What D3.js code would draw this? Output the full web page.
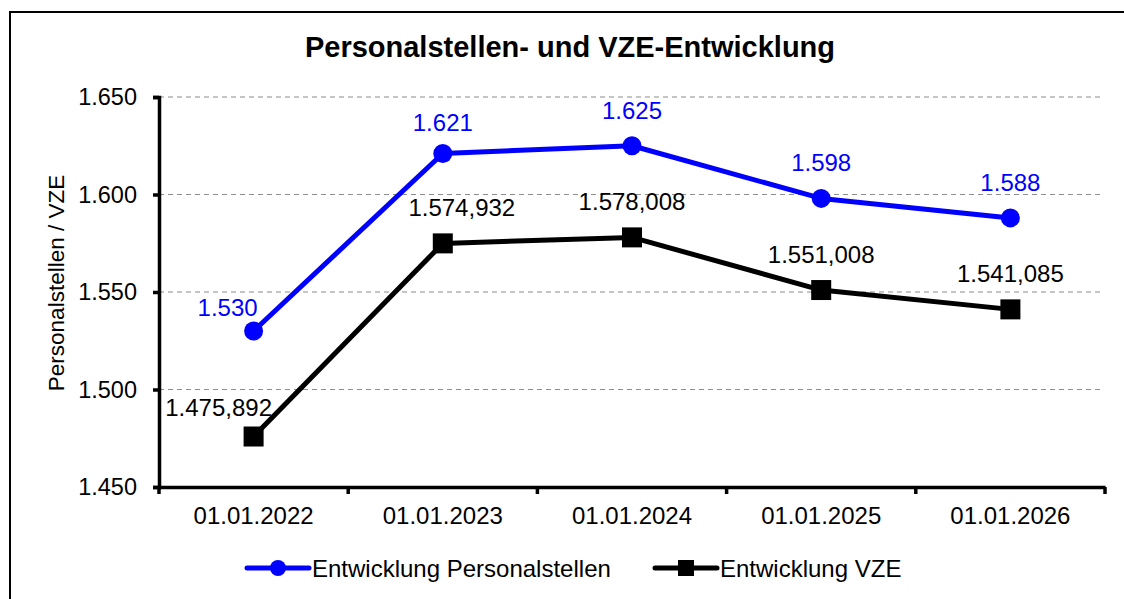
<!DOCTYPE html>
<html>
<head>
<meta charset="utf-8">
<script src="https://cdn.jsdelivr.net/npm/d3@7"></script>
<style>
  body { margin: 0; background: #fff; }
  text { font-family: "Liberation Sans", Arial, sans-serif; }
</style>
</head>
<body>
<div id="chart"></div>
<script>
var width = 1124,
    height = 599;

// data
var dates = ["01.01.2022", "01.01.2023", "01.01.2024", "01.01.2025", "01.01.2026"];
var personalstellen = [1530, 1621, 1625, 1598, 1588];
var vze = [1475.892, 1574.932, 1578.008, 1551.008, 1541.085];
var yTicks = [1450, 1500, 1550, 1600, 1650];
var seriesNames = ["Entwicklung Personalstellen", "Entwicklung VZE"];

// some labels were moved by hand in the original
var nudgeBlue = [[-26, 12], [0, 4], [0, 0], [0, 0], [0, 0]];
var nudgeBlack = [[-35, 6], [19, 0], [0, 0], [0, 0], [0, 0]];

var de = d3.formatLocale({ decimal: ",", thousands: ".", grouping: [3] });
var fmtInt = de.format(",.0f");
var fmtDec = de.format(",.3f");

var svg = d3.select("#chart").append("svg")
    .attr("width", width)
    .attr("height", height);

// outer frame (runs off the right / bottom edge like the screenshot)
svg.append("rect")
    .attr("x", 10).attr("y", 12)
    .attr("width", 1200).attr("height", 700)
    .attr("fill", "none")
    .attr("stroke", "#000")
    .attr("stroke-width", 2);

var plot = { left: 159, right: 1105, top: 97, bottom: 487 };

var x = d3.scaleBand()
    .domain(dates)
    .range([plot.left, plot.right]);

var y = d3.scaleLinear()
    .domain([1450, 1650])
    .range([plot.bottom, plot.top]);

// title
svg.append("text")
    .attr("x", 570).attr("y", 57)
    .attr("text-anchor", "middle")
    .style("font-size", "29px")
    .style("font-weight", "bold")
    .text("Personalstellen- und VZE-Entwicklung");

// grid
svg.append("g").selectAll("line")
    .data(yTicks.slice(1))
    .enter().append("line")
    .attr("x1", plot.left).attr("x2", plot.right - 1)
    .attr("y1", d => y(d)).attr("y2", d => y(d))
    .attr("stroke", "#8c8c8c")
    .attr("stroke-width", 1.2)
    .attr("stroke-dasharray", "5,4");

// y axis
var yAxis = svg.append("g")
    .attr("transform", "translate(" + plot.left + ",0)")
    .call(d3.axisLeft(y).tickValues(yTicks).tickFormat(fmtInt).tickSize(6).tickPadding(16));
yAxis.select(".domain").attr("stroke-width", 3.5);
yAxis.selectAll(".tick line").attr("stroke-width", 3.5);
yAxis.selectAll("text").style("font-size", "23.5px").attr("fill", "#000").attr("font-family", null);

// x axis
var xAxis = svg.append("g")
    .attr("transform", "translate(0," + plot.bottom + ")")
    .call(d3.axisBottom(x).tickSize(0).tickPadding(20));
xAxis.select(".domain").attr("stroke-width", 3.5);
xAxis.selectAll("text").style("font-size", "24px").attr("fill", "#000").attr("font-family", null);

// ticks between categories
svg.append("g").selectAll("line")
    .data(d3.range(dates.length + 1))
    .enter().append("line")
    .attr("x1", i => plot.left + i * x.step())
    .attr("x2", i => plot.left + i * x.step())
    .attr("y1", plot.bottom).attr("y2", plot.bottom + 7)
    .attr("stroke", "#000")
    .attr("stroke-width", 3.5);

// y axis title
svg.append("text")
    .attr("transform", "translate(64,283) rotate(-90)")
    .attr("text-anchor", "middle")
    .style("font-size", "22.5px")
    .text("Personalstellen / VZE");

var cx = d => x(d) + x.bandwidth() / 2;

var line = d3.line()
    .x(d => cx(d[0]))
    .y(d => y(d[1]));

var blueData = d3.zip(dates, personalstellen);
var blackData = d3.zip(dates, vze);

svg.append("path")
    .datum(blueData)
    .attr("d", line)
    .attr("fill", "none")
    .attr("stroke", "#0000ff")
    .attr("stroke-width", 5)
    .attr("stroke-linejoin", "round");

svg.append("path")
    .datum(blackData)
    .attr("d", line)
    .attr("fill", "none")
    .attr("stroke", "#000")
    .attr("stroke-width", 5)
    .attr("stroke-linejoin", "round");

svg.append("g").selectAll("circle")
    .data(blueData)
    .enter().append("circle")
    .attr("cx", d => cx(d[0]))
    .attr("cy", d => y(d[1]))
    .attr("r", 9.5)
    .attr("fill", "#0000ff");

svg.append("g").selectAll("rect")
    .data(blackData)
    .enter().append("rect")
    .attr("x", d => cx(d[0]) - 10)
    .attr("y", d => y(d[1]) - 10)
    .attr("width", 20).attr("height", 20)
    .attr("fill", "#000");

// data labels
svg.append("g").selectAll("text")
    .data(blueData)
    .enter().append("text")
    .attr("x", (d, i) => cx(d[0]) + nudgeBlue[i][0])
    .attr("y", (d, i) => y(d[1]) - 27 + nudgeBlue[i][1])
    .attr("text-anchor", "middle")
    .attr("fill", "#0000ff")
    .style("font-size", "24px")
    .text(d => fmtInt(d[1]));

svg.append("g").selectAll("text")
    .data(blackData)
    .enter().append("text")
    .attr("x", (d, i) => cx(d[0]) + nudgeBlack[i][0])
    .attr("y", (d, i) => y(d[1]) - 27 + nudgeBlack[i][1])
    .attr("text-anchor", "middle")
    .attr("fill", "#000")
    .style("font-size", "24px")
    .text(d => fmtDec(d[1]));

// legend
var legend = [
  { name: seriesNames[0], color: "#0000ff", shape: "circle", x: 247 },
  { name: seriesNames[1], color: "#000", shape: "square", x: 655 }
];
var lg = svg.append("g").selectAll("g")
    .data(legend)
    .enter().append("g")
    .attr("transform", d => "translate(" + d.x + ",568)");
lg.append("line")
    .attr("x1", 0).attr("x2", 62)
    .attr("stroke", d => d.color)
    .attr("stroke-width", 5)
    .attr("stroke-linecap", "round");
lg.filter(d => d.shape == "circle").append("circle")
    .attr("cx", 31).attr("r", 8)
    .attr("fill", d => d.color);
lg.filter(d => d.shape == "square").append("rect")
    .attr("x", 23).attr("y", -8)
    .attr("width", 16).attr("height", 16)
    .attr("fill", d => d.color);
lg.append("text")
    .attr("x", 65).attr("y", 8.5)
    .style("font-size", "24px")
    .text(d => d.name);
</script>
</body>
</html>
